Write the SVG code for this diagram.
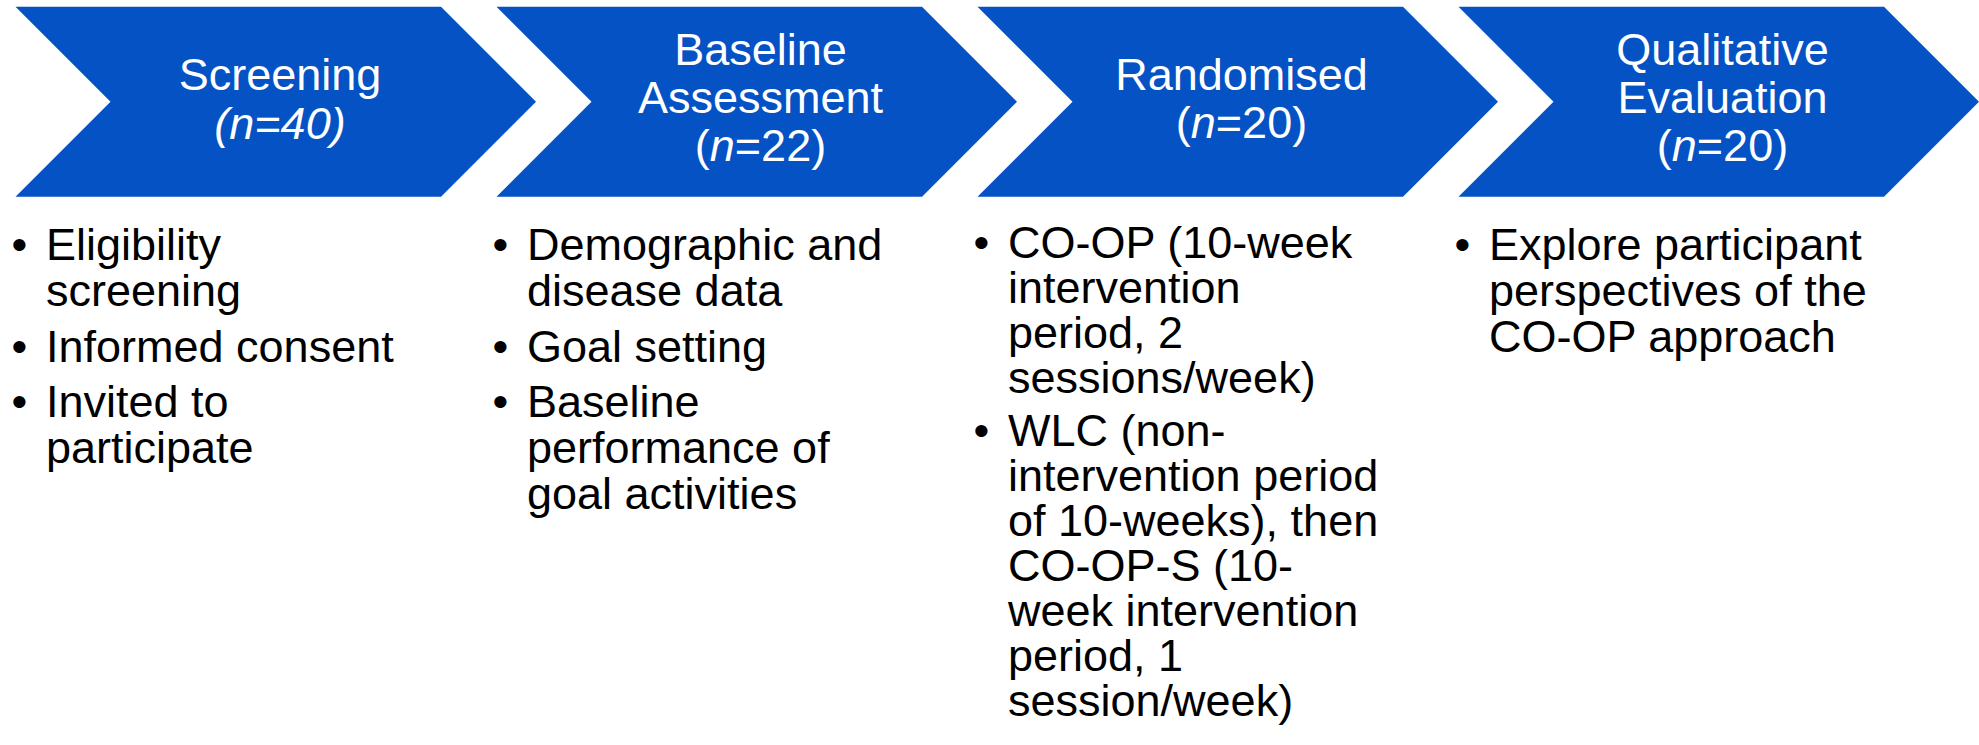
<svg xmlns="http://www.w3.org/2000/svg" width="1979" height="745" viewBox="0 0 1979 745">
<style>
.chev{fill:#0452C4;}
.hd{font-family:"Liberation Sans",Arial,sans-serif;font-size:45px;fill:#ffffff;text-anchor:middle;}
.bd{font-family:"Liberation Sans",Arial,sans-serif;font-size:45px;fill:#000000;}
.bl{font-family:"Liberation Sans",Arial,sans-serif;font-size:45px;fill:#000000;text-anchor:middle;}
.it{font-style:italic;}
</style>
<defs>
<path id="chevron" d="M0,6.7 L425.5,6.7 L520.5,101.7 L425.5,196.7 L0,196.7 L95,101.7 Z"/>
</defs>
<rect x="0" y="0" width="1979" height="745" fill="#ffffff"/>
<g id="connectors"></g>
<g id="step-screening">
<use href="#chevron" class="chev" x="15.5"/>
<text class="hd"><tspan x="280" y="90">Screening</tspan><tspan class="it" x="280" y="139">(n=40)</tspan></text>
</g>
<g id="step-baseline">
<use href="#chevron" class="chev" x="496.5"/>
<text class="hd"><tspan x="760.5" y="65">Baseline</tspan><tspan x="760.5" y="113">Assessment</tspan><tspan x="760.5" y="161">(<tspan class="it">n</tspan>=22)</tspan></text>
</g>
<g id="step-randomised">
<use href="#chevron" class="chev" x="977.5"/>
<text class="hd"><tspan x="1241.5" y="90">Randomised</tspan><tspan x="1241.5" y="138">(<tspan class="it">n</tspan>=20)</tspan></text>
</g>
<g id="step-qualitative">
<use href="#chevron" class="chev" x="1458.5"/>
<text class="hd"><tspan x="1722.5" y="65">Qualitative</tspan><tspan x="1722.5" y="113">Evaluation</tspan><tspan x="1722.5" y="161">(<tspan class="it">n</tspan>=20)</tspan></text>
</g>
<g id="list-screening">
<text class="bl" x="19.5" y="260">•</text>
<text class="bd"><tspan x="46" y="260">Eligibility</tspan><tspan x="46" y="306">screening</tspan></text>
<text class="bl" x="19.5" y="361.5">•</text>
<text class="bd" x="46" y="361.5">Informed consent</text>
<text class="bl" x="19.5" y="417">•</text>
<text class="bd"><tspan x="46" y="417">Invited to</tspan><tspan x="46" y="463">participate</tspan></text>
</g>
<g id="list-baseline">
<text class="bl" x="500.5" y="260">•</text>
<text class="bd"><tspan x="527" y="260">Demographic and</tspan><tspan x="527" y="306">disease data</tspan></text>
<text class="bl" x="500.5" y="361.5">•</text>
<text class="bd" x="527" y="361.5">Goal setting</text>
<text class="bl" x="500.5" y="417">•</text>
<text class="bd"><tspan x="527" y="417">Baseline</tspan><tspan x="527" y="463">performance of</tspan><tspan x="527" y="509">goal activities</tspan></text>
</g>
<g id="list-randomised">
<text class="bl" x="981.5" y="258">•</text>
<text class="bd"><tspan x="1008" y="258">CO-OP (10-week</tspan><tspan x="1008" y="303">intervention</tspan><tspan x="1008" y="348">period, 2</tspan><tspan x="1008" y="393">sessions/week)</tspan></text>
<text class="bl" x="981.5" y="446">•</text>
<text class="bd"><tspan x="1008" y="446">WLC (non-</tspan><tspan x="1008" y="491">intervention period</tspan><tspan x="1008" y="536">of 10-weeks), then</tspan><tspan x="1008" y="581">CO-OP-S (10-</tspan><tspan x="1008" y="626">week intervention</tspan><tspan x="1008" y="671">period, 1</tspan><tspan x="1008" y="716">session/week)</tspan></text>
</g>
<g id="list-qualitative">
<text class="bl" x="1462.5" y="260">•</text>
<text class="bd"><tspan x="1489" y="260">Explore participant</tspan><tspan x="1489" y="306">perspectives of the</tspan><tspan x="1489" y="352">CO-OP approach</tspan></text>
</g>
</svg>
